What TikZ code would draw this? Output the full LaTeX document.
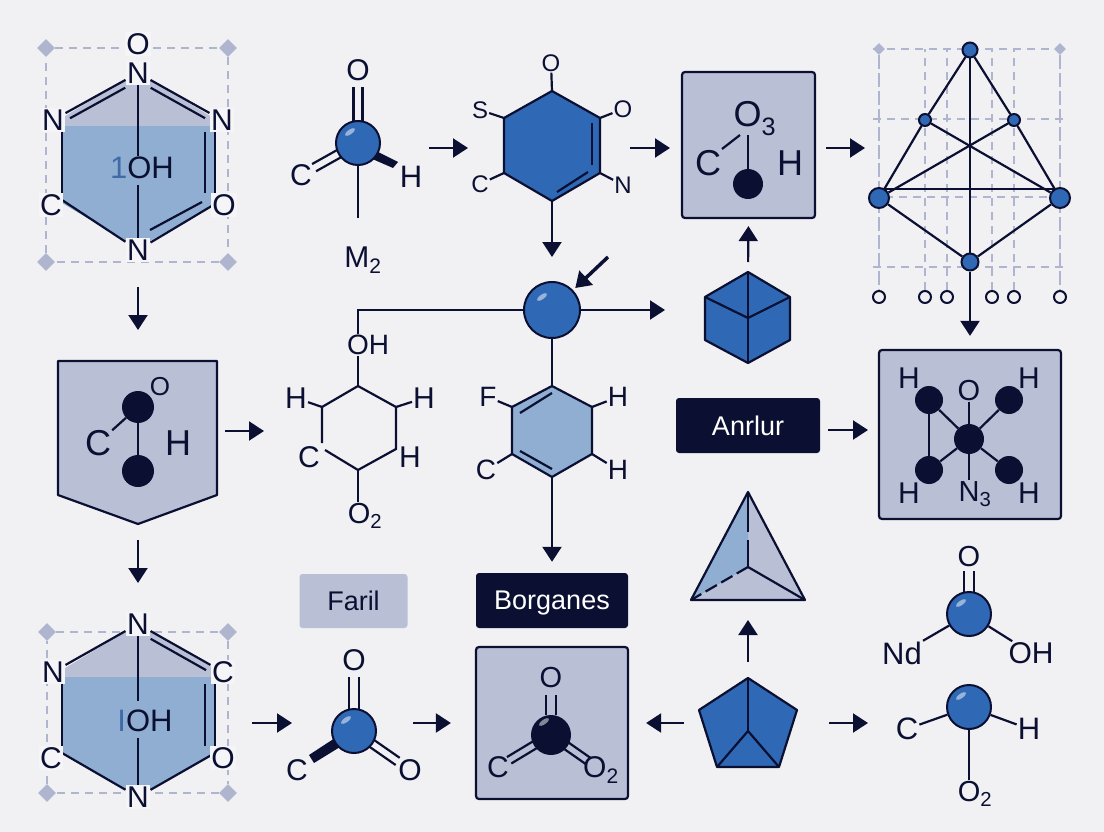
\documentclass[tikz,border=0pt]{standalone}
\usepackage{fontspec}
\setmainfont{Liberation Sans}
\usetikzlibrary{arrows.meta,calc,shapes.geometric}
\definecolor{ink}{HTML}{0B1033}
\definecolor{blueb}{HTML}{2F68B4}
\definecolor{bluel}{HTML}{8FAED1}
\definecolor{lil}{HTML}{B9BFD5}
\definecolor{bgc}{HTML}{F1F1F3}
\definecolor{patch}{HTML}{F5F5F7}
\definecolor{frm}{HTML}{AFB5CE}
\definecolor{numb}{HTML}{3F6CA8}
\pgfdeclarelayer{under}\pgfdeclarelayer{lines}
\pgfsetlayers{under,lines,main}
\tikzset{
  lab/.style={font=\fontsize{#1}{#1}\selectfont,inner sep=1pt,text=ink},
  atomp/.style={lab=#1,fill=patch,inner sep=1.5pt},
  bond/.style={draw=ink,line width=2.2pt},
  arr/.style={draw=ink,line width=2.2pt,-{Triangle[length=15pt,width=19pt]}},
  ballb/.style={circle,fill=blueb,draw=ink,line width=2pt,inner sep=0pt,minimum size=#1},
  balld/.style={circle,fill=ink,inner sep=0pt,minimum size=#1},
  panel/.style={rectangle,rounded corners=3pt,fill=lil,draw=ink,line width=2.2pt,inner sep=0pt},
  tagd/.style={rectangle,rounded corners=3pt,fill=ink,text=white,inner sep=0pt,text depth=0pt,font=\fontsize{27}{27}\selectfont},
  tagl/.style={rectangle,rounded corners=3pt,fill=lil,text=ink,inner sep=0pt,text depth=0pt,font=\fontsize{27}{27}\selectfont},
  dashframe/.style={draw=frm,line width=2.4pt,dash pattern=on 8pt off 6pt},
  corner/.style={diamond,fill=frm,inner sep=0pt,minimum size=#1},
  vtx/.style={circle,fill=blueb,draw=ink,line width=2pt,inner sep=0pt,minimum size=#1},
  pin/.style={circle,fill=bgc,draw=ink,line width=2pt,inner sep=0pt,minimum size=12pt},
  solidb/.style={fill=blueb,draw=ink,line width=2.2pt,line join=round},
  lightb/.style={fill=lil,draw=ink,line width=2.2pt,line join=round}
}
\newcommand\parbond[6]{\draw[bond,shorten <=#5pt,shorten >=#6pt] ($(#1)+(#3,#4)$) -- ($(#2)+(#3,#4)$);}
\newcommand\ballhl[3]{\fill[white,opacity=.5] ($(#1)+(#2,#3)$) ellipse [x radius=6pt,y radius=2.3pt,rotate=35];}
\begin{document}
\begin{tikzpicture}[x=1pt,y=-1pt]
\useasboundingbox (0,0) rectangle (1104,832);
% ---------- fills and panels
\begin{pgfonlayer}{under}
\fill[bgc] (0,0) rectangle (1104,832);
% frames
\node[corner=18pt] (c1a) at (46,48) {};
\node[corner=18pt] (c1b) at (228,48) {};
\node[corner=18pt] (c1c) at (228,262) {};
\node[corner=18pt] (c1d) at (46,262) {};
\draw[dashframe] (c1a) -- (c1b) -- (c1c) -- (c1d) -- (c1a);
\node[corner=18pt] (c2a) at (47,632) {};
\node[corner=18pt] (c2b) at (228,632) {};
\node[corner=18pt] (c2c) at (228,793) {};
\node[corner=18pt] (c2d) at (47,793) {};
\draw[dashframe] (c2a) -- (c2b) -- (c2c) -- (c2d) -- (c2a);
% hex 1 fill
\begin{scope}
\clip (138,72) -- (215,119) -- (215,204) -- (138,248) -- (62,203) -- (62,118) -- cycle;
\fill[lil] (40,60) rectangle (240,126);
\fill[bluel] (40,126) rectangle (240,260);
\end{scope}
% hex 2 fill
\begin{scope}
\clip (138,624) -- (215,669) -- (215,753) -- (138,797) -- (62,753) -- (62,670) -- cycle;
\fill[lil] (40,620) rectangle (240,677);
\fill[bluel] (40,677) rectangle (240,800);
\end{scope}
% shield
\coordinate (shN) at (138,361);
\coordinate (shS) at (138,524);
\coordinate (shE) at (217,431);
\draw[lightb] (58,361) -- (217,361) -- (217,495) -- (shS) -- (58,495) -- cycle;
% panels and tags
\node[panel,minimum width=133pt,minimum height=146pt] (box1) at (748.5,145) {};
\node[panel,minimum width=182pt,minimum height=169pt] (box2) at (970,434.5) {};
\node[panel,minimum width=152pt,minimum height=152pt] (box3) at (552,723) {};
\node[tagd,minimum width=144pt,minimum height=55pt] (anr) at (748,425.5) {Anrlur};
\node[tagd,minimum width=152pt,minimum height=55pt] (bor) at (552,600.5) {Borganes};
\node[tagl,minimum width=108pt,minimum height=54pt] (far) at (353.5,601) {Faril};
% blue hexagon
\coordinate (bT) at (552,91);
\coordinate (bUR) at (600,118);
\coordinate (bLR) at (600,173);
\coordinate (bB) at (552,201);
\coordinate (bLL) at (504,173);
\coordinate (bUL) at (504,118);
\draw[solidb] (bT) -- (bUR) -- (bLR) -- (bB) -- (bLL) -- (bUL) -- cycle;
% second hexagon
\coordinate (gT) at (552,386);
\coordinate (gUR) at (592,407);
\coordinate (gLR) at (592,454);
\coordinate (gB) at (552,477);
\coordinate (gLL) at (512,454);
\coordinate (gUL) at (512,407);
\draw[fill=bluel,draw=ink,line width=2.2pt,line join=round] (gT) -- (gUR) -- (gLR) -- (gB) -- (gLL) -- (gUL) -- cycle;
% cube
\coordinate (cuT) at (748,272);
\coordinate (cuC) at (748,318);
\coordinate (cuB) at (748,363);
\coordinate (cuUR) at (790,297);
\coordinate (cuUL) at (705,297);
\draw[solidb] (cuT) -- (cuUR) -- (790,340) -- (cuB) -- (705,340) -- (cuUL) -- cycle;
% tetrahedron
\coordinate (tA) at (748,492);
\coordinate (tL) at (691,600);
\coordinate (tR) at (805,600);
\coordinate (tC) at (748,567);
\fill[lil] (tA) -- (tR) -- (tL) -- cycle;
\fill[bluel] (tA) -- (tC) -- (tL) -- cycle;
% pentagon
\coordinate (pT) at (748,678);
\coordinate (pR) at (797,710);
\coordinate (pBR) at (779,767);
\coordinate (pBL) at (717,767);
\coordinate (pL) at (699,710);
\coordinate (pC) at (748,731);
\draw[solidb] (pT) -- (pR) -- (pBR) -- (pBL) -- (pL) -- cycle;
% lattice guides
\node[corner=12pt] (g1) at (879,49) {};
\node[corner=12pt] (g2) at (1060,49) {};
\node[pin] (q1) at (879,297) {};
\node[pin] (q2) at (925,297) {};
\node[pin] (q3) at (947,297) {};
\node[pin] (q4) at (992,297) {};
\node[pin] (q5) at (1014,297) {};
\node[pin] (q6) at (1060,297) {};
\draw[dashframe] (873,49) -- (1066,49);
\draw[dashframe] (873,119) -- (1066,119);
\draw[dashframe] (873,267) -- (1066,267);
\draw[dashframe] (885,197) -- (1050,197);
\draw[dashframe,dash pattern=on 14pt off 4pt] (g1) -- (q1);
\draw[dashframe,dash pattern=on 14pt off 4pt] (g2) -- (q6);
\draw[dashframe] (q2) -- (925,49);
\draw[dashframe] (q3) -- (947,49);
\draw[dashframe] (q4) -- (992,49);
\draw[dashframe] (q5) -- (1014,49);
\end{pgfonlayer}
% ---------- labels and balls
% hex 1
\node[atomp=30] (a1) at (138,44) {O};
\node[atomp=30] (a2) at (138,73) {N};
\node[atomp=30] (a3) at (53,120) {N};
\node[atomp=30] (a4) at (222,120) {N};
\node[atomp=30] (a5) at (51,205) {C};
\node[atomp=30] (a6) at (224,205) {O};
\node[atomp=30] (a7) at (138,250) {N};
\node[lab=31] (a8) at (142,168) {{\color{numb}1}OH};
\coordinate (v5) at (62,200);
\coordinate (v6) at (215,204);
% hex 2
\node[atomp=30] (e2) at (138,624) {N};
\node[atomp=30] (e3) at (53,672) {N};
\node[atomp=30] (e4) at (223,672) {C};
\node[atomp=30] (e5) at (51,758) {C};
\node[atomp=30] (e6) at (223,758) {O};
\node[atomp=30] (e7) at (138,797) {N};
\node[lab=31] (e8) at (145,721) {{\color{numb}I}OH};
\coordinate (w5) at (62,753);
\coordinate (w6) at (215,753);
% shield contents
\node[balld=32pt] (s1) at (138,407) {};
\node[balld=32pt] (s2) at (138,471) {};
\node[lab=26] (s3) at (160,387) {O};
\node[lab=36] (s4) at (98,443) {C};
\node[lab=36] (s5) at (178,443) {H};
% molecule 1
\node[ballb=44pt] (m1) at (358,143) {};
\node[lab=30] (m1o) at (358,70) {O};
\node[lab=30] (m1c) at (301,175) {C};
\node[lab=31] (m1h) at (411,177) {H};
\node[lab=30] (m1m) at (363,260) {M\textsubscript{2}};
\coordinate (m1d) at (358,218);
% blue hex labels
\node[lab=24] (b1) at (551,63) {O};
\node[lab=24] (b2) at (623,109) {O};
\node[lab=24] (b3) at (480,110) {S};
\node[lab=24] (b4) at (480,184) {C};
\node[lab=24] (b5) at (623,185) {N};
% box 1
\node[lab=36] (x1) at (755,119) {O\textsubscript{3}};
\node[lab=36] (x2) at (708,163) {C};
\node[lab=36] (x3) at (790,163) {H};
\node[balld=30pt] (x4) at (748,184) {};
% sphere
\node[ballb=56pt] (sph) at (552,310) {};
% cyclohexane
\coordinate (yT) at (358,386);
\coordinate (yUR) at (396,407);
\coordinate (yLR) at (396,449);
\coordinate (yB) at (358,470);
\coordinate (yLL) at (325,450);
\coordinate (yUL) at (322,407);
\node[lab=28] (y1) at (368,345) {OH};
\node[lab=30] (y2) at (296,398) {H};
\node[lab=30] (y3) at (424,398) {H};
\node[lab=30] (y4) at (309,457) {C};
\node[lab=30] (y5) at (410,457) {H};
\node[lab=29] (y6) at (365,516) {O\textsubscript{2}};
% second hexagon labels
\node[lab=28] (g3) at (488,397) {F};
\node[lab=28] (g4) at (618,397) {H};
\node[lab=28] (g5) at (486,470) {C};
\node[lab=28] (g6) at (618,470) {H};
% box 2
\node[balld=28pt] (k1) at (929,400) {};
\node[balld=28pt] (k2) at (1009,400) {};
\node[balld=30pt] (k3) at (969,439) {};
\node[balld=28pt] (k4) at (929,470) {};
\node[balld=28pt] (k5) at (1009,470) {};
\node[lab=29] (k6) at (969,391) {O};
\node[lab=29] (k7) at (975,494) {N\textsubscript{3}};
\node[lab=30] (k8) at (909,378) {H};
\node[lab=30] (k9) at (1029,378) {H};
\node[lab=30] (k10) at (909,493) {H};
\node[lab=30] (k11) at (1029,493) {H};
% lattice nodes
\node[vtx=15pt] (lt) at (970,50) {};
\node[vtx=12pt] (la) at (925,120) {};
\node[vtx=12pt] (lb) at (1014,120) {};
\node[vtx=20pt] (ll) at (879,198) {};
\node[vtx=20pt] (lr) at (1060,198) {};
\node[vtx=17pt] (lm) at (970,262) {};
% lower left molecule
\node[ballb=44pt] (m3) at (354,731) {};
\node[lab=30] (m3o) at (354,660) {O};
\node[lab=30] (m3c) at (297,770) {C};
\node[lab=30] (m3r) at (410,770) {O};
% box 3
\node[balld=40pt] (z1) at (551,735) {};
\node[lab=29] (z2) at (551,678) {O};
\node[lab=30] (z3) at (498,767) {C};
\node[lab=30] (z4) at (601,770) {O\textsubscript{2}};
% lower right molecules
\node[ballb=44pt] (r1) at (969,614) {};
\node[lab=29] (r2) at (969,557) {O};
\node[lab=31] (r3) at (902,653) {Nd};
\node[lab=30] (r4) at (1031,653) {OH};
\node[ballb=44pt] (w1) at (969,707) {};
\node[lab=31] (w2) at (907,729) {C};
\node[lab=31] (w3) at (1029,729) {H};
\node[lab=29] (w4) at (975,794) {O\textsubscript{2}};
% highlights
\ballhl{m1}{-8}{-11}
\ballhl{m3}{-8}{-11}
\ballhl{sph}{-10}{-13}
\ballhl{r1}{-8}{-11}
\ballhl{w1}{-8}{-11}
\ballhl{z1}{-7}{-13}
% port coordinates for floating arrows
\coordinate (h1S) at (138,262);
\coordinate (h2N) at (138,612);
\coordinate (h2E) at (232,723);
\coordinate (cyW) at (296,431);
\coordinate (m1E) at (400,148);
\coordinate (hxW) at (504,148);
\coordinate (hxE) at (600,148);
\coordinate (bxW) at (682,148);
\coordinate (bxE) at (815,148);
\coordinate (ltW) at (879,148);
\coordinate (m3W) at (300,723);
\coordinate (m3E) at (410,723);
\coordinate (pnW) at (699,723);
\coordinate (pnE) at (797,723);
\coordinate (w1W) at (895,723);
\coordinate (dg) at (608,257);
\coordinate (anE) at (820,430);
\coordinate (bbW) at (879,430);
\coordinate (cuW) at (705,310);
% ---------- bonds and connectors
\begin{pgfonlayer}{lines}
% hex 1
\draw[bond] (a2) -- (a3);
\draw[bond] (a2) -- (a4);
\parbond{a2}{a3}{3}{6}{18}{16}
\parbond{a2}{a4}{-3}{6}{18}{16}
\draw[bond] ([xshift=9pt]a3.south) -- ([xshift=11pt]a5.north);
\draw[bond] ([xshift=-7pt]a4.south) -- ([xshift=-9pt]a6.north);
\draw[bond] ([xshift=-17pt]a4.south) -- ([xshift=-19pt]a6.north);
\draw[bond] (v5) -- (a7);
\draw[bond] (a7) -- (v6);
\draw[bond] (150,230) -- (202,202);
\draw[bond] (a2) -- (a2 |- a8.north);
\draw[bond] ([yshift=-5pt]a7 |- a8.south) -- (a7);
% hex 2
\draw[bond] (e2) -- (e3);
\draw[bond] (e2) -- (e4);
\parbond{e2}{e4}{-3}{6}{18}{16}
\draw[bond] ([xshift=9pt]e3.south) -- ([xshift=11pt]e5.north);
\draw[bond] ([xshift=-8pt]e4.south) -- ([xshift=-8pt]e6.north);
\draw[bond] ([xshift=-18pt]e4.south) -- ([xshift=-18pt]e6.north);
\draw[bond] (w5) -- (e7);
\draw[bond] (e7) -- (w6);
\draw[bond] (e2) -- ([yshift=8pt]e2 |- e8.north);
\draw[bond] ([yshift=-5pt]e7 |- e8.south) -- (e7);
% shield
\draw[bond] (s1) -- (s2);
\draw[bond] (s1) -- (s4);
% molecule 1
\parbond{m1}{m1o}{-4.5}{0}{20}{17}
\parbond{m1}{m1o}{4.5}{0}{20}{17}
\parbond{m1}{m1c}{-2}{-3.6}{20}{15}
\parbond{m1}{m1c}{2}{3.6}{20}{15}
\fill[ink] (370,148) -- (398,162) -- (393,168) -- (370,158) -- cycle;
\draw[bond] (m1) -- (m1d);
% blue hex
\draw[bond] (bT) -- (b1);
\draw[bond] (bUR) -- (b2);
\draw[bond] (bUL) -- (b3);
\draw[bond] (bLL) -- (b4);
\draw[bond] (bLR) -- (b5);
\draw[bond] (592,123) -- (592,165);
\draw[bond] (557,192) -- (588,172);
% box 1
\draw[bond] (x4) -- (748,135);
\draw[bond] (722,149) -- (740,135);
% sphere links
\draw[bond] (sph) -| ([xshift=-10pt]y1.north);
\draw[bond] (sph) -- (gT);
% cyclohexane
\draw[bond] (y1.south -| yT) -- (yT);
\draw[bond] (yT) -- (yUR) -- (yLR) -- (yB) -- (yLL);
\draw[bond] (yT) -- (yUL) -- (322,443);
\draw[bond] (yUL) -- (y2);
\draw[bond] (yUR) -- (y3);
\draw[bond] (yB) -- (yB |- y6.north);
% second hexagon
\draw[bond] (520,413) -- (552,393);
\draw[bond] (520,451) -- (552,469);
\draw[bond] (gUL) -- (g3);
\draw[bond] (gUR) -- (g4);
\draw[bond] (gLL) -- (g5);
\draw[bond] (gLR) -- (g6);
% cube interior
\draw[bond] (cuC) -- (cuT);
\draw[bond] (cuC) -- (cuB);
\draw[bond] (cuC) -- (cuUR);
\draw[bond] (cuC) -- (cuUL);
% tetrahedron
\draw[bond,line join=round] (tA) -- (tR) -- (tL) -- cycle;
\draw[bond] (tA) -- ($(tA)!.53!(tC)$);
\draw[bond] ($(tA)!.64!(tC)$) -- (tC);
\draw[bond] (tC) -- (tR);
\draw[bond,dash pattern=on 13pt off 5pt] (tC) -- (tL);
% pentagon interior
\draw[bond] (pT) -- (pC);
\draw[bond] (pC) -- (pBL);
\draw[bond] (pC) -- (pBR);
% box 2
\draw[bond] (k1) -- (k4);
\draw[bond] (k1) -- (k3);
\draw[bond] (k2) -- (k3);
\draw[bond] (k4) -- (k3);
\draw[bond] (k5) -- (k3);
\draw[bond] (k6) -- (k3);
\draw[bond] (k3) -- (k3 |- k7.north);
% lattice
\draw[bond] (lt) -- (la) -- (ll);
\draw[bond] (lt) -- (lb) -- (lr);
\draw[bond] (ll) -- (lm) -- (lr);
\draw[bond] (la) -- (lr);
\draw[bond] (lb) -- (ll);
\draw[bond] (lt) -- (lm);
\draw[bond] ([yshift=9pt]ll.center) -- ([yshift=9pt]lr.center);
% lower left molecule
\parbond{m3}{m3o}{-5}{0}{22}{17}
\parbond{m3}{m3o}{5}{0}{22}{17}
\fill[ink] (335,738) -- (309,755) -- (314,763) -- (340,747) -- cycle;
\parbond{m3}{m3r}{2}{-3.6}{20}{15}
\parbond{m3}{m3r}{-2}{3.6}{20}{15}
% box 3
\parbond{z1}{z2}{-5}{0}{20}{17}
\parbond{z1}{z2}{5}{0}{20}{17}
\parbond{z1}{z3}{-2.2}{-3.2}{19}{13}
\parbond{z1}{z3}{2.2}{3.2}{19}{13}
\parbond{z1}{z4}{2.2}{-3.2}{19}{15}
\parbond{z1}{z4}{-2.2}{3.2}{19}{15}
% lower right molecules
\parbond{r1}{r2}{-5}{0}{20}{14}
\parbond{r1}{r2}{5}{0}{20}{14}
\draw[bond] (r1) -- (r3);
\draw[bond] (r1) -- (r4);
\draw[bond] (w1) -- (w2);
\draw[bond] (w1) -- (w3);
\draw[bond] (w1) -- (w1 |- w4.north);
% arrows
\draw[arr,shorten <=25pt,shorten >=31pt] (h1S) -- (shN);
\draw[arr,shorten <=16pt,shorten >=29pt] (shS) -- (h2N);
\draw[arr,shorten <=8pt,shorten >=32pt] (shE) -- (cyW);
\draw[arr,shorten <=29pt,shorten >=36pt] (m1E) -- (hxW);
\draw[arr,shorten <=30pt,shorten >=12pt] (hxE) -- (bxW);
\draw[arr,shorten <=11pt,shorten >=14pt] (bxE) -- (ltW);
\draw[arr,shorten >=24pt] (bB) -- (sph.north);
\draw[arr,line width=3.5pt,shorten >=3pt] (dg) -- (sph);
\draw[arr,shorten >=40pt] (sph) -- (cuW);
\draw[arr,shorten >=11pt] (gB) -- (bor.north);
\draw[arr,shorten <=10pt,shorten >=7pt] (cuT) -- (box1.south);
\draw[arr,shorten >=13pt] (lm) -- (box2.north);
\draw[arr,shorten <=8pt,shorten >=11pt] (anE) -- (bbW);
\draw[arr,shorten <=20pt,shorten >=8pt] (h2E) -- (m3W);
\draw[arr,shorten <=3pt,shorten >=24pt] (m3E) -- (box3.west);
\draw[arr,shorten <=15pt,shorten >=17pt] (pnW) -- (box3.east);
\draw[arr,shorten <=32pt,shorten >=27pt] (pnE) -- (w1W);
\draw[arr,shorten <=16pt,shorten >=20pt] (pT) -- (tL -| pT);
\end{pgfonlayer}
\end{tikzpicture}
\end{document}
